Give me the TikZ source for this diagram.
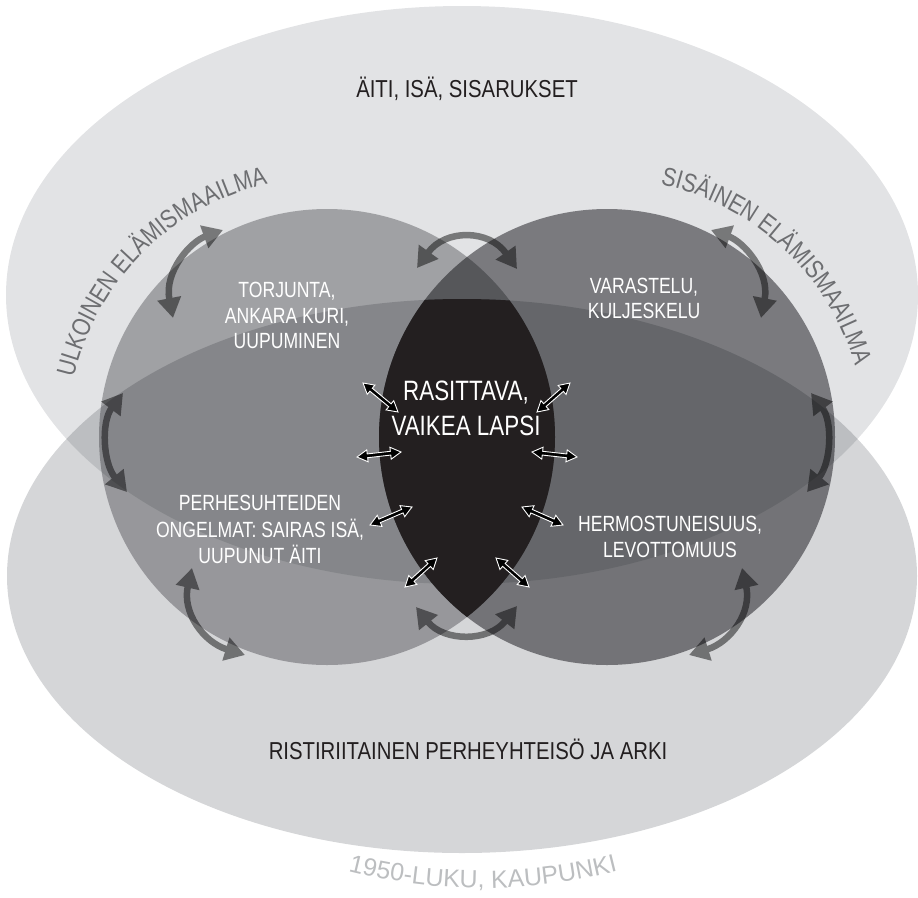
\documentclass[tikz,border=0pt]{standalone}
\usepackage{fontspec}
\setmainfont{Liberation Sans}
\newfontfamily\condfont[FakeStretch=0.80]{Liberation Sans}
\newfontfamily\headfont[FakeStretch=0.83]{Liberation Sans}
\newfontfamily\arcfont[FakeStretch=0.82]{Liberation Sans}
\usetikzlibrary{calc,arrows.meta,decorations.text}
\definecolor{colT}{HTML}{E2E3E5}
\definecolor{colB}{HTML}{D5D6D8}
\definecolor{colL}{HTML}{B5B5B7}
\definecolor{colR}{HTML}{8A8A8D}
\definecolor{lensblack}{HTML}{231F20}
\definecolor{arcgray}{HTML}{6D6E71}
\definecolor{yeargray}{HTML}{BCBEC0}
\definecolor{txtblack}{HTML}{231F20}
\tikzset{
  pics/darr/.style={code={
    \filldraw[fill=black, draw=white, line width=0.9pt, line join=miter]
      (0,0) -- (10.5,6) -- (10.5,1.9) -- ({#1-10.5},1.9) -- ({#1-10.5},6) -- (#1,0)
      -- ({#1-10.5},-6) -- ({#1-10.5},-1.9) -- (10.5,-1.9) -- (10.5,-6) -- cycle;
  }},
  grayarrow/.style={black, line width=6.5pt,
    {Triangle[length=20pt,width=23pt]}-{Triangle[length=20pt,width=23pt]}},
  headtxt/.style={font=\headfont\fontsize{24.5}{29}\selectfont, text=txtblack, anchor=base, inner sep=0pt},
  labtxt/.style={font=\condfont\fontsize{22}{26}\selectfont, text=white, anchor=base, inner sep=0pt},
  bigtxt/.style={font=\condfont\fontsize{28}{33}\selectfont, text=white, anchor=base, inner sep=0pt},
}
\begin{document}
\begin{tikzpicture}[x=1pt,y=-1pt]
\useasboundingbox (0,0) rectangle (918,897);
% centres
\coordinate (TE) at (462,295);
\coordinate (BE) at (462,576);
\coordinate (LC) at (327,437);
\coordinate (RC) at (607,437);
% big shapes
\begin{scope}[blend mode=multiply]
  \fill[colT] (TE) ellipse [x radius=456pt, y radius=289pt];
  \fill[colB] (BE) ellipse [x radius=455pt, y radius=277pt];
  \fill[colL] (LC) circle [radius=228pt];
  \fill[colR] (RC) circle [radius=228pt];
\end{scope}
% black lens
\begin{scope}
  \clip (LC) circle [radius=228pt];
  \clip (RC) circle [radius=228pt];
  \fill[lensblack] (BE) ellipse [x radius=455pt, y radius=277pt];
\end{scope}
% gray curved double arrows
\coordinate (g1s) at (173,318); \coordinate (g1e) at (223,230);
\coordinate (g2s) at (123,393); \coordinate (g2e) at (127,492);
\coordinate (g3s) at (417,268); \coordinate (g3e) at (517,269);
\coordinate (g4s) at (761,318); \coordinate (g4e) at (711,230);
\coordinate (g5s) at (811,393); \coordinate (g5e) at (807,492);
\coordinate (g6s) at (192,568); \coordinate (g6e) at (245,655);
\coordinate (g7s) at (416,607); \coordinate (g7e) at (517,606);
\coordinate (g8s) at (742,568); \coordinate (g8e) at (689,655);
\begin{scope}[transparency group, opacity=0.47]
  \draw[grayarrow] (g1s) .. controls (164,272) and (190,242) .. (g1e);
  \draw[grayarrow] (g2s) .. controls (101,422) and (103,463) .. (g2e);
  \draw[grayarrow] (g3s) .. controls (445,229) and (489,229) .. (g3e);
  \draw[grayarrow] (g4s) .. controls (770,272) and (744,242) .. (g4e);
  \draw[grayarrow] (g5s) .. controls (833,422) and (831,463) .. (g5e);
  \draw[grayarrow] (g6s) .. controls (182,612) and (203,642) .. (g6e);
  \draw[grayarrow] (g7s) .. controls (444,642) and (489,642) .. (g7e);
  \draw[grayarrow] (g8s) .. controls (752,612) and (731,642) .. (g8e);
\end{scope}
% small double arrows
\coordinate (a1) at (363,383); \coordinate (a2) at (398,412);
\coordinate (b1) at (537,412); \coordinate (b2) at (570,383);
\coordinate (c1) at (357,457); \coordinate (c2) at (401,452);
\coordinate (d1) at (532,452); \coordinate (d2) at (577,457);
\coordinate (e1) at (370,525); \coordinate (e2) at (412,507);
\coordinate (f1) at (522,507); \coordinate (f2) at (563,525);
\coordinate (h1) at (405,587); \coordinate (h2) at (437,558);
\coordinate (k1) at (496,558); \coordinate (k2) at (529,587);
\foreach \s/\e in {a1/a2,b1/b2,c1/c2,d1/d2,e1/e2,f1/f2,h1/h2,k1/k2}{
  \path let \p1=($(\e)-(\s)$), \n1={atan2(\y1,\x1)}, \n2={veclen(\x1,\y1)}
    in (\s) pic[rotate=\n1] {darr=\n2};
}
% texts
\node[headtxt] (aiti) at (467,97) {ÄITI, ISÄ, SISARUKSET};
\node[headtxt] (arki) at (468,759) {RISTIRIITAINEN PERHEYHTEISÖ JA ARKI};
\node[labtxt] (torj1) at (287,297) {TORJUNTA,};
\node[labtxt] (torj2) at (287,323) {ANKARA KURI,};
\node[labtxt] (torj3) at (287,348) {UUPUMINEN};
\node[labtxt] (vara1) at (644,293) {VARASTELU,};
\node[labtxt] (vara2) at (644,318) {KULJESKELU};
\node[bigtxt] (rasi1) at (466,400) {RASITTAVA,};
\node[bigtxt] (rasi2) at (466,435) {VAIKEA LAPSI};
\node[labtxt] (perhe1) at (260,510) {PERHESUHTEIDEN};
\node[labtxt] (perhe2) at (260,537) {ONGELMAT: SAIRAS ISÄ,};
\node[labtxt] (perhe3) at (260,563) {UUPUNUT ÄITI};
\node[labtxt] (hermo1) at (670,531) {HERMOSTUNEISUUS,};
\node[labtxt] (hermo2) at (670,557) {LEVOTTOMUUS};
% arc texts
\path[decorate, decoration={text along path, text align=center,
  text={|\color{arcgray}\arcfont\fontsize{26}{30}\selectfont|ULKOINEN ELÄMISMAAILMA}}]
  (LC) ++(165:260) arc[start angle=165, end angle=285, radius=260];
\path[decorate, decoration={text along path, text align=center,
  text={|\color{arcgray}\arcfont\fontsize{26}{30}\selectfont|SISÄINEN ELÄMISMAAILMA}}]
  (RC) ++(253:258) arc[start angle=253, end angle=373, radius=258];
\coordinate (YC) at (483,337);
\path[decorate, decoration={text along path, text align=center,
  text={|\color{yeargray}\fontsize{25}{29}\selectfont|1950-LUKU, KAUPUNKI}}]
  (YC) ++(110:551) arc[start angle=110, end angle=70, radius=551];
\end{tikzpicture}
\end{document}
